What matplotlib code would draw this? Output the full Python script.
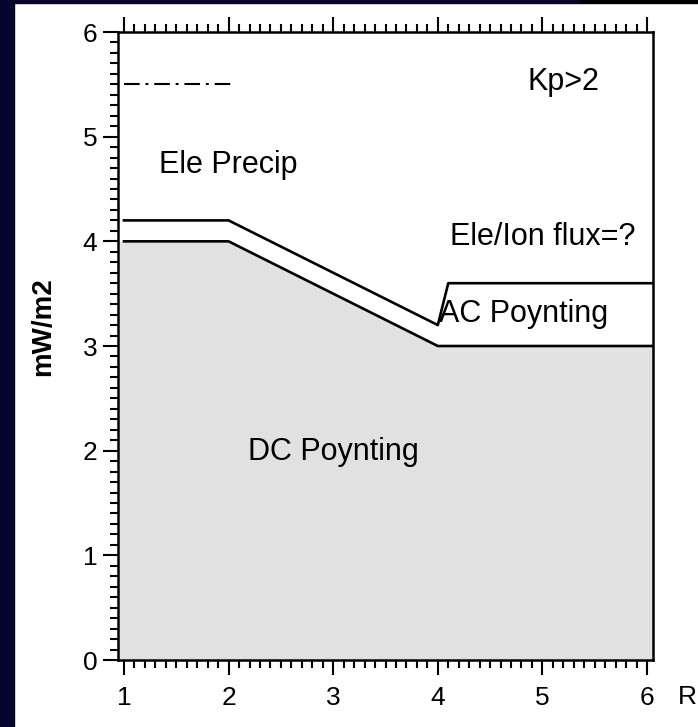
import matplotlib
matplotlib.use("Agg")
import matplotlib.pyplot as plt
from matplotlib.patches import Rectangle
from matplotlib.ticker import MultipleLocator

plt.rcParams['font.family'] = ['Liberation Sans', 'DejaVu Sans']

# boundary curves (R vs mW/m2)
dc_x = [1, 2, 4, 6.05]
dc_y = [4.0, 4.0, 3.0, 3.0]
ac_x = [1, 2, 4, 4.1, 6.05]
ac_y = [4.2, 4.2, 3.2, 3.6, 3.6]
kp_x = [1, 2.04]
kp_y = [5.5, 5.5]

labels = ["Kp>2", "Ele Precip", "Ele/Ion flux=?", "AC Poynting", "DC Poynting"]
label_x = [5.2, 2.0, 5.0, 4.82, 3.0]
label_y = [5.52, 4.73, 4.04, 3.31, 1.99]

xticks = [1, 2, 3, 4, 5, 6]
yticks = [0, 1, 2, 3, 4, 5, 6]

W, H = 698, 727
fig = plt.figure(figsize=(W / 100, H / 100), dpi=100)
fig.patch.set_facecolor('white')

# slide background bits showing around the figure
fig.patches.append(Rectangle((0, 0), 14 / W, 1, transform=fig.transFigure,
                             color='#05052e', zorder=0))
fig.patches.append(Rectangle((0, 1 - 3 / H), 580 / W, 3 / H, transform=fig.transFigure,
                             color='#05052e', zorder=0))
fig.patches.append(Rectangle((580 / W, 1 - 3 / H), 1, 3 / H, transform=fig.transFigure,
                             color='#000000', zorder=0))

ax = fig.add_axes([118 / W, 1 - 660 / H, (653 - 118) / W, (660 - 32) / H])
ax.set_xlim(0.943, 6.057)
ax.set_ylim(0, 6)

# shaded DC Poynting region, running out to the frame
x0, x1 = ax.get_xlim()
fill_x = [x0] + dc_x[1:-1] + [x1]
ax.fill_between(fill_x, dc_y, 0, color='#e1e1e1', lw=0, zorder=1)

ax.plot(dc_x, dc_y, color='black', lw=1.9, zorder=2)
ax.plot(ac_x, ac_y, color='black', lw=1.9, zorder=2)
ax.plot(kp_x, kp_y, color='black', lw=1.5, dashes=(7.5, 2.8, 1.4, 2.8), zorder=2)

for t, x, y in zip(labels, label_x, label_y):
    ax.text(x, y, t, fontsize=22, ha='center', va='center', zorder=3)

for s in ax.spines.values():
    s.set_linewidth(1.8)

ax.set_xticks(xticks)
ax.set_yticks(yticks)
ax.xaxis.set_minor_locator(MultipleLocator(0.1))
ax.yaxis.set_minor_locator(MultipleLocator(0.1))
ax.tick_params(axis='x', which='both', direction='out', top=True, bottom=True,
               labeltop=False, width=1.5)
ax.tick_params(axis='y', which='both', direction='out', left=True, right=False, width=1.5)
ax.tick_params(which='major', length=11, labelsize=19)
ax.tick_params(axis='x', which='major', pad=8)
ax.tick_params(axis='y', which='major', pad=4)
ax.tick_params(which='minor', length=6)

fig.text(43 / W, 1 - 327 / H, "mW/m2", rotation=90, fontsize=20, fontweight='bold',
         ha='center', va='center')
fig.text(678 / W, 1 - 697 / H, "R", fontsize=19, ha='left', va='center')

fig.savefig("out.png", dpi=100, facecolor=fig.get_facecolor())
